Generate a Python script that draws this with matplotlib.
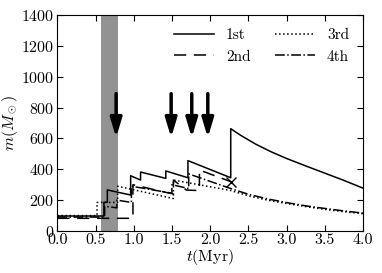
import matplotlib
matplotlib.use("Agg")
import matplotlib.pyplot as plt

plt.rcParams['font.family'] = ['cmr10', 'DejaVu Serif']
plt.rcParams['mathtext.fontset'] = 'cm'
plt.rcParams['axes.formatter.use_mathtext'] = True
plt.rcParams['font.size'] = 11.5

# masses of the four most massive stars
t1 = [0, 0.61, 0.61, 0.655, 0.655, 0.96, 0.96, 1.09, 1.09, 1.42, 1.42, 1.71, 1.71, 2.27, 2.27,
      2.4, 2.6, 2.8, 3.0, 3.25, 3.5, 3.75, 4.0]
m1 = [97, 97, 186, 186, 266, 233, 358, 330, 382, 341, 389, 345, 456, 345, 663,
      620, 562, 513, 470, 422, 375, 328, 278]

t2 = [0, 0.99, 0.99, 1.42, 1.52, 1.52, 1.69, 1.86, 1.86, 2.27]
m2 = [82, 82, 300, 250, 240, 330, 265, 262, 395, 320]

t3 = [0, 0.52, 0.52, 0.79, 0.79, 1.52, 1.52, 2.27, 2.5, 2.75, 3.0, 3.25, 3.5, 3.75, 4.0]
m3 = [100, 100, 185, 185, 290, 210, 330, 262, 228, 200, 178, 158, 140, 125, 112]

t4 = [0, 0.62, 0.62, 0.78, 0.78, 0.97, 0.97, 1.5, 1.5, 1.72, 1.72, 2.27, 2.5, 2.75, 3.0, 3.25,
      3.5, 3.75, 4.0]
m4 = [90, 90, 160, 150, 200, 185, 290, 245, 300, 275, 370, 275, 238, 208, 184, 163,
      146, 130, 116]

labels = ['1st', '2nd', '3rd', '4th']
styles = ['-', (0, (8, 5)), ':', '-.']

merge_t, merge_m = 2.27, 320
arrow_t = [0.77, 1.49, 1.76, 1.97]
band = (0.57, 0.79)

fig = plt.figure(figsize=(3.82, 2.73), dpi=100)
ax = fig.add_axes([0.150, 0.154, 0.800, 0.791])

ax.axvspan(band[0], band[1], color='#7f7f7f', alpha=0.85, lw=0)

for t, m, lab, ls in zip([t1, t2, t3, t4], [m1, m2, m3, m4], labels, styles):
    ax.plot(t, m, color='k', ls=ls, lw=1.1, label=lab)

ax.plot(merge_t, merge_m, 'x', color='k', ms=7, mew=1.0)

for a in arrow_t:
    ax.annotate('', xy=(a, 605), xytext=(a, 890),
                arrowprops=dict(arrowstyle='-|>,head_width=0.3,head_length=1.0',
                                color='k', lw=2.5, shrinkA=0, shrinkB=0))

ax.set_xlim(0, 4)
ax.set_ylim(0, 1400)
ax.set_xticks([0, 0.5, 1, 1.5, 2, 2.5, 3, 3.5, 4])
ax.set_xticklabels(['0.0', '0.5', '1.0', '1.5', '2.0', '2.5', '3.0', '3.5', '4.0'])
ax.set_yticks(range(0, 1401, 200))
ax.tick_params(direction='in', top=True, right=True, length=4, pad=2)
ax.set_xlabel('$t$(Myr)', labelpad=0)
ax.set_ylabel(r'$m(M_\odot)$', labelpad=1)

ax.legend(ncol=2, frameon=False, loc='upper right', handlelength=2.6,
          columnspacing=1.6, borderaxespad=0.5, fontsize=11)

fig.savefig('out.png', dpi=100)
